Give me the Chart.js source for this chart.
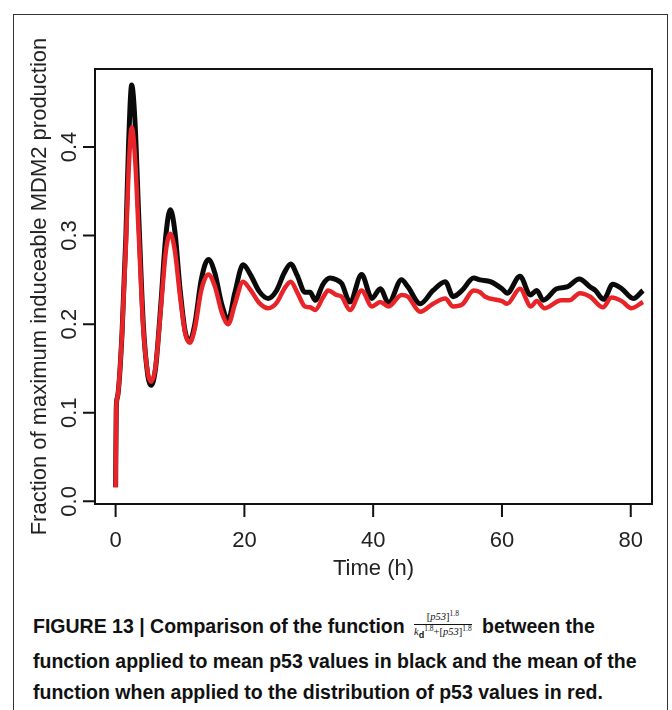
<!DOCTYPE html>
<html lang="en">
<head>
<meta charset="UTF-8">
<title>Figure 13 - MDM2 production</title>
<script src="https://cdn.jsdelivr.net/npm/chart.js"></script>
<style>
    html, body { margin: 0; padding: 0; background: #fff; }
    body { width: 672px; height: 710px; position: relative; overflow: hidden; font-family: "Liberation Sans", Arial, sans-serif; }
    .frame { position: absolute; left: 13px; top: 14px; width: 655px; height: 740px; border: 1.5px solid #333; box-sizing: border-box; }
    #chart { position: absolute; left: 0; top: 0; }
    .caption { position: absolute; left: 33px; top: 611px; width: 630px; font-family: "Liberation Sans Narrow", "Liberation Sans", Arial, sans-serif; font-weight: bold; font-size: 19.5px; line-height: 31px; color: #111; }
    .caption .first { height: 35px; }
    .frac { display: inline-block; vertical-align: middle; text-align: center; font-family: "Liberation Serif", serif; font-weight: normal; font-size: 10.5px; line-height: 12px; margin: -6px 5px 0 4px; }
    .frac .num { display: block; border-bottom: 1px solid #111; padding: 0 1px 1px; }
    .frac .den { display: block; padding-top: 1px; }
    .frac sup { font-size: 7.5px; line-height: 0; vertical-align: 4px; }
    .frac sub { font-size: 9px; line-height: 0; vertical-align: -3px; font-family: "Liberation Sans", sans-serif; font-weight: bold; }
</style>
</head>
<body>
<div class="frame"></div>
<canvas id="chart" width="672" height="600"></canvas>
<div class="caption"><div class="first">FIGURE 13 | Comparison of the function <span class="frac"><span class="num">[<i>p53</i>]<sup>1.8</sup></span><span class="den"><i>k</i><sub>d</sub><sup>1.8</sup>+[<i>p53</i>]<sup>1.8</sup></span></span> between the</div>function applied to mean p53 values in black and the mean of the<br>function when applied to the distribution of p53 values in red.</div>

<script>
// time points (h) and values
const timeBlack = [0, 0.1, 0.3, 1.0, 1.6, 2.0, 2.5, 3.0, 3.6, 4.3, 5.0, 5.5, 6.2, 7.0, 7.8, 8.5, 9.2, 10.0, 10.8, 11.5,
    12.3, 13.3, 14.4, 15.4, 16.5, 17.5, 18.5, 19.8, 21.0, 22.3, 23.7, 25.0, 26.2, 27.2, 28.2, 29.4, 30.2, 31.0, 32.2, 33.3,
    34.3, 35.1, 36.4, 38.2, 39.8, 41.1, 42.4, 44.4, 45.4, 47.3, 49.3, 51.2, 52.4, 53.8, 55.6, 56.6, 58.2, 60.0, 60.8, 62.8,
    64.4, 65.4, 66.4, 68.5, 70.1, 72.0, 73.7, 74.5, 75.8, 77.2, 78.6, 80.4, 81.9];
const meanBlack = [0.016, 0.105, 0.118, 0.19, 0.30, 0.40, 0.470, 0.43, 0.32, 0.20, 0.142, 0.131, 0.150, 0.220, 0.300, 0.329, 0.305, 0.240, 0.192, 0.181,
    0.200, 0.250, 0.273, 0.258, 0.222, 0.205, 0.235, 0.267, 0.255, 0.237, 0.229, 0.238, 0.258, 0.268, 0.255, 0.236, 0.236, 0.227, 0.245, 0.252,
    0.250, 0.246, 0.225, 0.256, 0.229, 0.240, 0.224, 0.250, 0.242, 0.223, 0.238, 0.248, 0.231, 0.238, 0.252, 0.250, 0.248, 0.240, 0.235, 0.254,
    0.233, 0.238, 0.227, 0.240, 0.242, 0.251, 0.242, 0.238, 0.228, 0.245, 0.240, 0.229, 0.238];

const timeRed = [0, 0.1, 0.3, 1.0, 1.6, 2.0, 2.5, 3.0, 3.6, 4.3, 5.0, 5.5, 6.2, 7.0, 7.8, 8.5, 9.2, 10.0, 10.8, 11.5,
    12.3, 13.3, 14.4, 15.4, 16.5, 17.5, 18.5, 19.8, 21.0, 22.3, 23.7, 25.0, 26.2, 27.2, 28.2, 29.4, 30.2, 31.0, 32.2, 33.0,
    34.3, 35.1, 36.4, 38.2, 39.8, 41.1, 42.4, 44.4, 45.4, 47.3, 49.3, 51.2, 52.4, 53.8, 55.6, 56.6, 57.4, 60.0, 60.8, 62.8,
    64.5, 65.4, 66.6, 69.2, 70.5, 72.1, 73.7, 75.7, 77.0, 78.6, 80.1, 81.9];
const meanRed = [0.016, 0.105, 0.118, 0.19, 0.29, 0.37, 0.422, 0.39, 0.30, 0.195, 0.145, 0.135, 0.152, 0.215, 0.282, 0.302, 0.283, 0.232, 0.190, 0.179,
    0.195, 0.238, 0.256, 0.243, 0.213, 0.200, 0.222, 0.248, 0.238, 0.224, 0.218, 0.224, 0.240, 0.248, 0.236, 0.220, 0.219, 0.216, 0.230, 0.238,
    0.233, 0.231, 0.216, 0.238, 0.220, 0.225, 0.220, 0.233, 0.231, 0.214, 0.223, 0.229, 0.220, 0.222, 0.238, 0.236, 0.231, 0.226, 0.223, 0.240,
    0.220, 0.226, 0.218, 0.227, 0.227, 0.235, 0.231, 0.219, 0.230, 0.226, 0.218, 0.225];

const xTicks = [0, 20, 40, 60, 80];
const yTicks = [0.0, 0.1, 0.2, 0.3, 0.4];
const xTitle = 'Time (h)';
const yTitle = 'Fraction of maximum induceable MDM2 production';

function toPoints(xs, ys) {
    return xs.map((t, i) => ({ x: t, y: ys[i] }));
}

// R-style box, ticks and labels, placed with the chart's scales
const rAxes = {
    id: 'rAxes',
    afterDraw(chart) {
        const ctx = chart.ctx;
        const a = chart.chartArea;
        const x = chart.scales.x, y = chart.scales.y;
        ctx.save();
        ctx.strokeStyle = '#111';
        ctx.lineWidth = 2;
        ctx.strokeRect(a.left, a.top, a.right - a.left, a.bottom - a.top);

        ctx.fillStyle = '#222';
        ctx.font = '22px "Liberation Sans", Arial, sans-serif';
        ctx.textAlign = 'center';
        ctx.textBaseline = 'middle';

        ctx.beginPath();
        xTicks.forEach(v => {
            const px = x.getPixelForValue(v);
            ctx.moveTo(px, a.bottom);
            ctx.lineTo(px, a.bottom + 13);
        });
        yTicks.forEach(v => {
            const py = y.getPixelForValue(v);
            ctx.moveTo(a.left - 12, py);
            ctx.lineTo(a.left, py);
        });
        ctx.stroke();

        xTicks.forEach(v => {
            ctx.fillText(String(v), x.getPixelForValue(v), a.bottom + 37);
        });
        yTicks.forEach(v => {
            ctx.save();
            ctx.translate(a.left - 25, y.getPixelForValue(v));
            ctx.rotate(-Math.PI / 2);
            ctx.fillText(v.toFixed(1), 0, 0);
            ctx.restore();
        });

        ctx.fillText(xTitle, (a.left + a.right) / 2, a.bottom + 65);
        ctx.save();
        ctx.translate(40, (a.top + a.bottom) / 2);
        ctx.rotate(-Math.PI / 2);
        ctx.fillText(yTitle, 0, 0);
        ctx.restore();
        ctx.restore();
    }
};

new Chart(document.getElementById('chart'), {
    type: 'line',
    data: {
        datasets: [
            {
                label: 'mean p53 (black)',
                data: toPoints(timeBlack, meanBlack),
                borderColor: '#0a0a0a',
                borderWidth: 5,
                cubicInterpolationMode: 'monotone',
                pointRadius: 0,
                order: 2
            },
            {
                label: 'distribution of p53 (red)',
                data: toPoints(timeRed, meanRed),
                borderColor: 'rgb(232, 36, 40)',
                borderWidth: 4.5,
                cubicInterpolationMode: 'monotone',
                pointRadius: 0,
                order: 1
            }
        ]
    },
    options: {
        responsive: false,
        animation: false,
        layout: { padding: { left: 95, top: 69, right: 20, bottom: 96 } },
        plugins: {
            legend: { display: false },
            tooltip: { enabled: false }
        },
        scales: {
            x: { type: 'linear', min: -3.2, max: 83.3, display: false },
            y: { type: 'linear', min: -0.003, max: 0.488, display: false }
        }
    },
    plugins: [rAxes]
});
</script>
</body>
</html>
